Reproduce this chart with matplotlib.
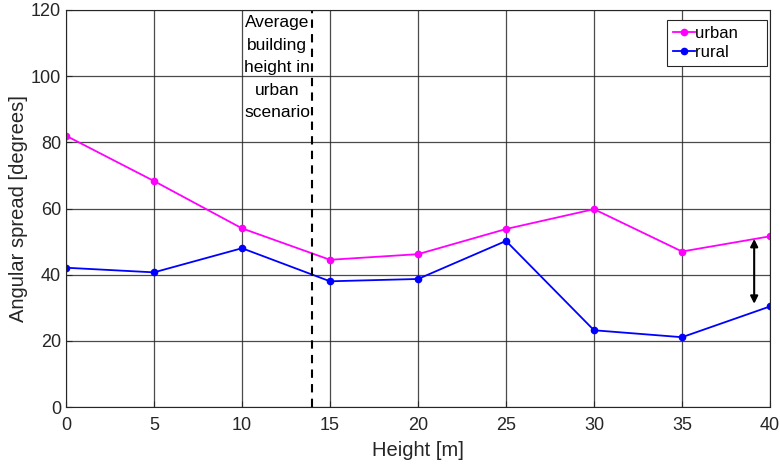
import numpy as np
import matplotlib.pyplot as plt

plt.rcParams['font.family'] = ['Liberation Sans', 'DejaVu Sans']

heights = [0, 5, 10, 15, 20, 25, 30, 35, 40]
urban = [82.0, 68.3, 54.0, 44.5, 46.2, 53.8, 59.8, 47.0, 51.6]
rural = [42.1, 40.7, 48.0, 38.0, 38.7, 50.2, 23.2, 21.1, 30.4]
avg_building_height = 14
arrow_x = 39.1

fig = plt.figure(figsize=(7.8, 4.65), dpi=100)
ax = fig.add_axes([0.0846, 0.1247, 0.9026, 0.8538])

ax.plot(heights, urban, color='magenta', marker='o', markersize=4.5, lw=1.3, label='urban     ')
ax.plot(heights, rural, color='blue', marker='o', markersize=4.5, lw=1.3, label='rural     ')

ax.axvline(avg_building_height, color='black', ls=(0, (4, 3)), lw=1.5)
ax.text(12, 118.5, 'Average\nbuilding\nheight in\nurban\nscenario', ha='center', va='top',
        fontsize=12.5, linespacing=1.63, color='black')

ax.annotate('', xy=(arrow_x, urban[-1] - 0.8), xytext=(arrow_x, rural[-1] + 0.8),
            arrowprops=dict(arrowstyle='<|-|>', color='black', lw=1.5,
                            mutation_scale=11, shrinkA=0, shrinkB=0))

ax.set_xlim(0, 40)
ax.set_ylim(0, 120)
ax.set_xticks(np.arange(0, 41, 5))
ax.set_yticks(np.arange(0, 121, 20))
ax.grid(True, color='#2a2a2a', lw=0.9, alpha=0.85)
ax.set_axisbelow(True)
ax.tick_params(direction='in', labelsize=13, colors='#262626', length=4)
ax.tick_params(axis='x', pad=7)
for s in ax.spines.values():
    s.set_color('#262626')

ax.set_xlabel('Height [m]', fontsize=14.5, color='#262626', labelpad=5)
ax.set_ylabel('Angular spread [degrees]', fontsize=14.5, color='#262626', labelpad=2)

leg = ax.legend(loc='upper right', bbox_to_anchor=(0.996, 0.975), fontsize=12,
                fancybox=False, framealpha=1, edgecolor='#262626',
                handlelength=1.3, handletextpad=0.05, borderpad=0.35, labelspacing=0.25,
                borderaxespad=0)
leg.get_frame().set_linewidth(0.8)

fig.savefig('out.png', dpi=100)
